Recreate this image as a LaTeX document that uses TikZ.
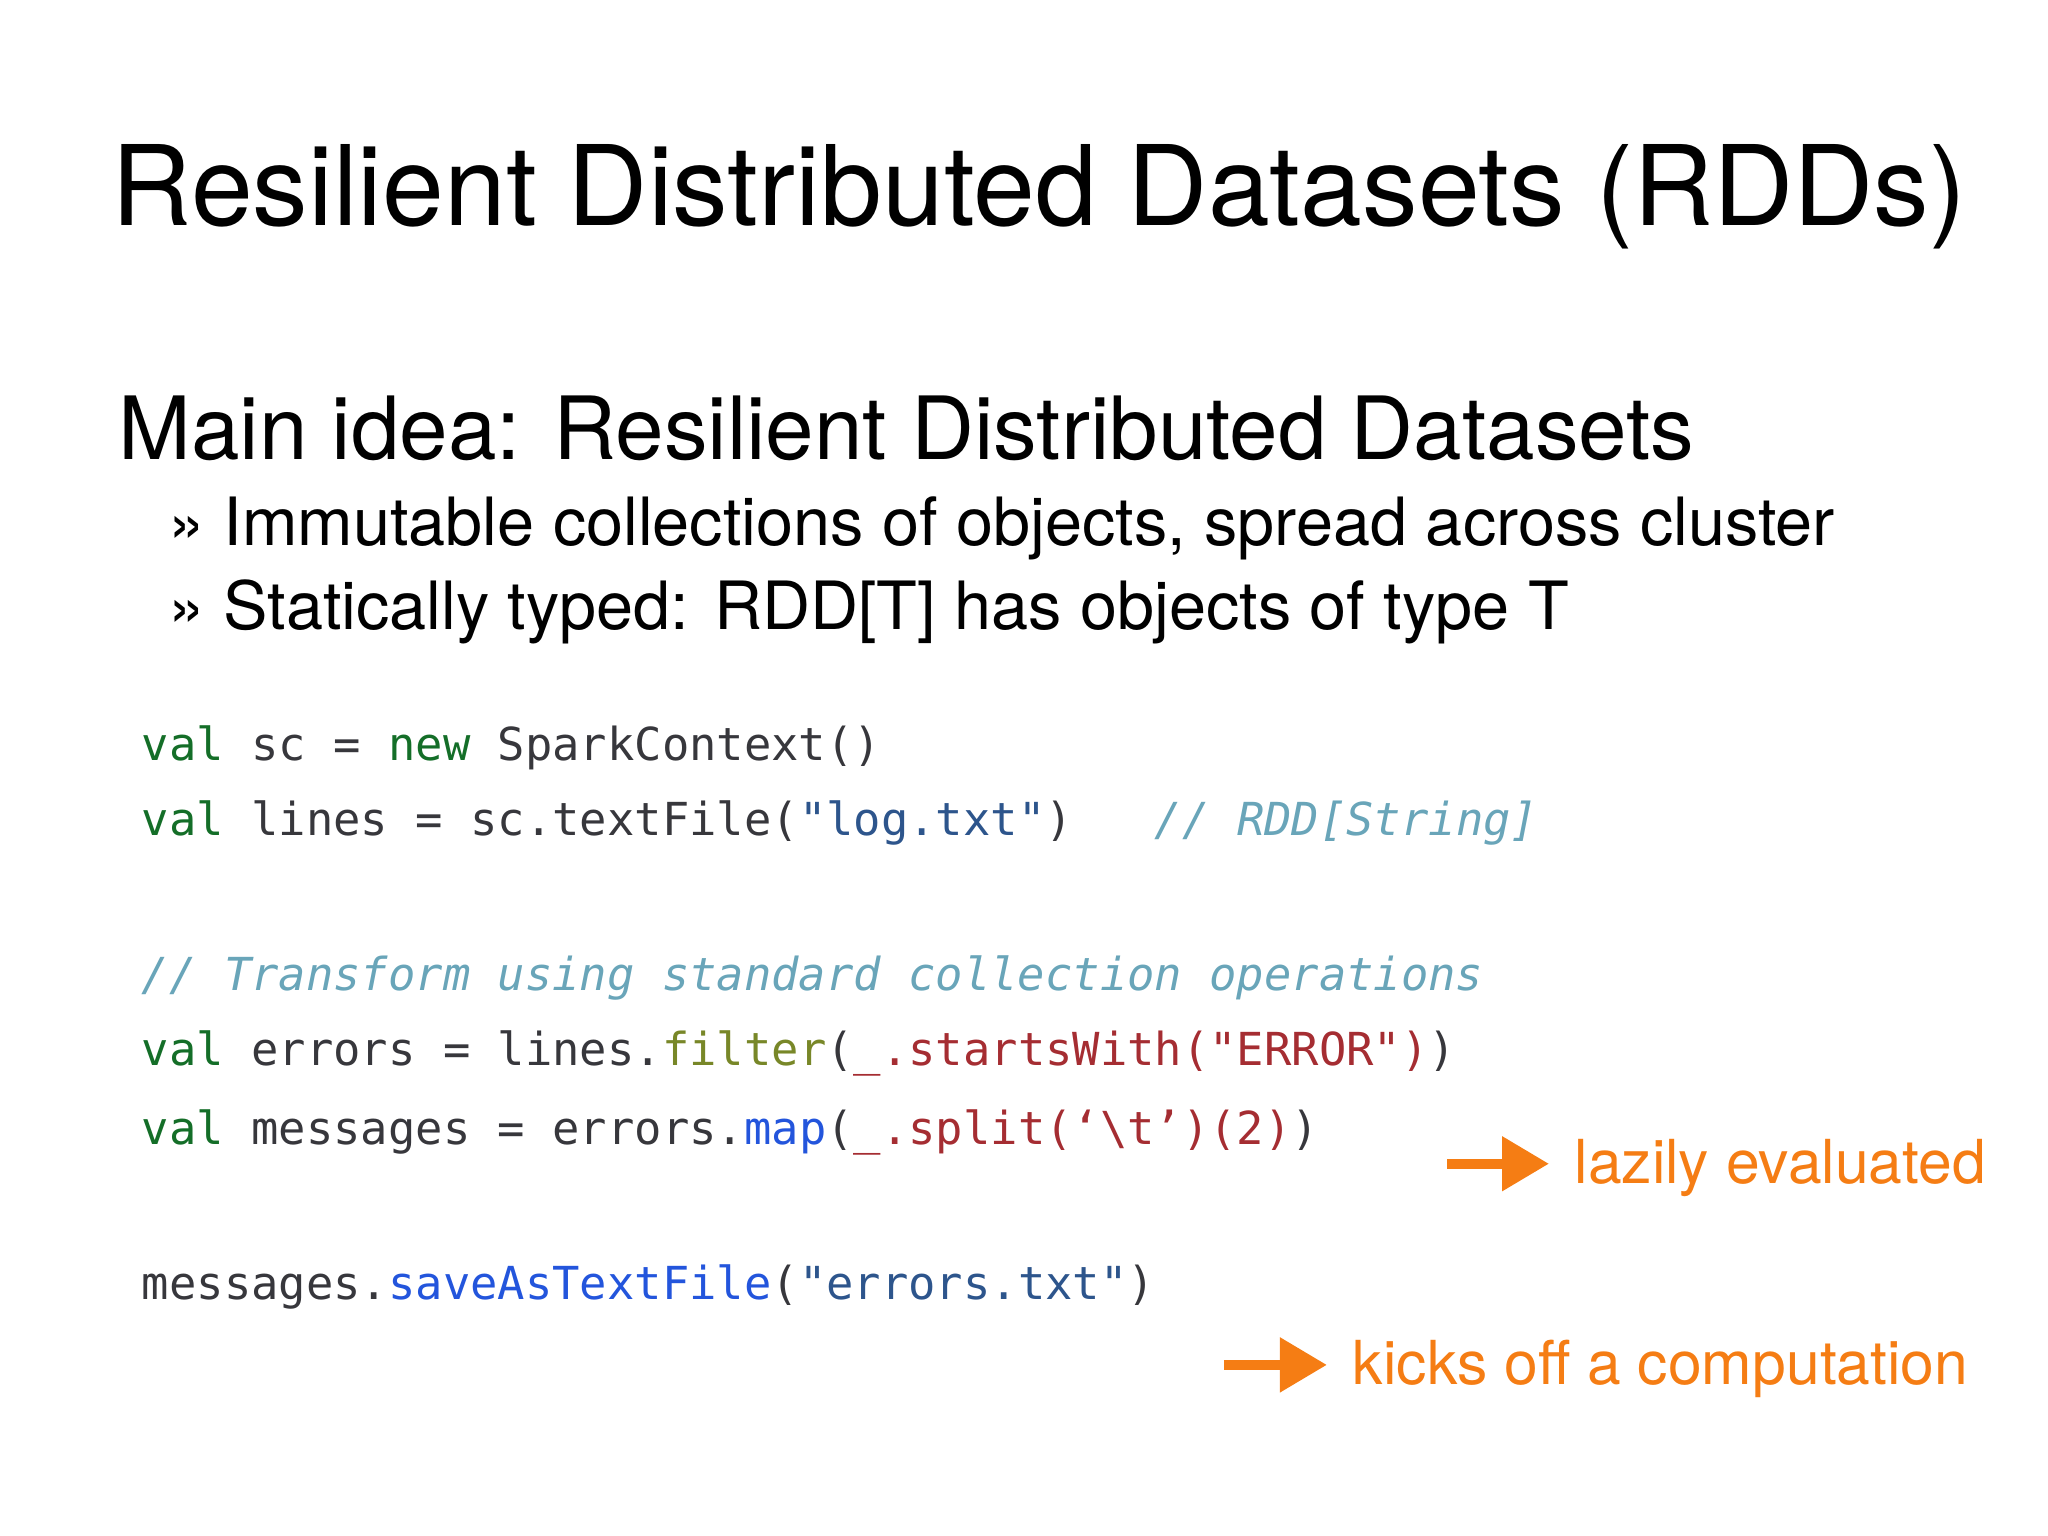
\documentclass[tikz,border=0pt]{standalone}
\usepackage{fontspec}
\setmainfont{TeX Gyre Heros}
\setmonofont{DejaVu Sans Mono}
\usetikzlibrary{arrows.meta}
\definecolor{kw}{RGB}{20,110,40}
\definecolor{idn}{RGB}{55,55,60}
\definecolor{str}{RGB}{45,85,140}
\definecolor{red1}{RGB}{165,45,50}
\definecolor{olive}{RGB}{120,135,40}
\definecolor{meth}{RGB}{35,85,220}
\definecolor{cmt}{RGB}{105,165,185}
\definecolor{org}{RGB}{245,125,20}
\tikzset{
  title/.style={anchor=base west,inner sep=0,font=\fontsize{24.2}{30}\selectfont},
  sub/.style={anchor=base west,inner sep=0,font=\fontsize{19}{24}\selectfont},
  bul/.style={anchor=base west,inner sep=0,font=\fontsize{14.5}{18}\selectfont},
  code/.style={anchor=base west,inner sep=0,font=\ttfamily\fontsize{9.9}{12}\selectfont,text=idn},
  note/.style={anchor=base west,inner sep=0,font=\fontsize{13.2}{17}\selectfont,text=org},
  oarrow/.style={draw=org,line width=0.8mm,-{Triangle[length=3.6mm,width=4mm]}}
}
\begin{document}
\begin{tikzpicture}[x=0.01cm,y=-0.01cm]
\useasboundingbox (0,0) rectangle (1568,1176);
\node[title] (t) at (85,173) {Resilient Distributed Datasets (RDDs)};
\node[sub] (s) at (90,352) {Main idea: Resilient Distributed Datasets};
\node[bul] (b1) at (128,418) {» Immutable collections of objects, spread across cluster};
\node[bul] (b2) at (128,482) {» Statically typed: RDD[T] has objects of type T};
\node[code] (c1) at (108,582) {\textcolor{kw}{val} sc = \textcolor{kw}{new} SparkContext()};
\node[code] (c2) at (108,640) {\textcolor{kw}{val} lines = sc.textFile(\textcolor{str}{"log.txt"})\ \ \ \textcolor{cmt}{\itshape // RDD[String]}};
\node[code] (c3) at (108,758) {\textcolor{cmt}{\itshape // Transform using standard collection operations}};
\node[code] (c4) at (108,816) {\textcolor{kw}{val} errors = lines.\textcolor{olive}{filter}(\textcolor{red1}{\_.startsWith("ERROR")})};
\node[code] (c5) at (108,876) {\textcolor{kw}{val} messages = errors.\textcolor{meth}{map}(\textcolor{red1}{\_.split(‘\textbackslash t’)(2)})};
\node[code] (c6) at (108,995) {messages.\textcolor{meth}{saveAsTextFile}(\textcolor{str}{"errors.txt"})};
\node[note] (n1) at (1205,906) {lazily evaluated};
\node[note] (n2) at (1035,1060) {kicks off a computation};
\coordinate (a1) at (1108,891);
\coordinate (e1) at (1186,891);
\coordinate (a2) at (937,1045);
\coordinate (e2) at (1016,1045);
\draw[oarrow] (a1) -- (e1);
\draw[oarrow] (a2) -- (e2);
\end{tikzpicture}
\end{document}
